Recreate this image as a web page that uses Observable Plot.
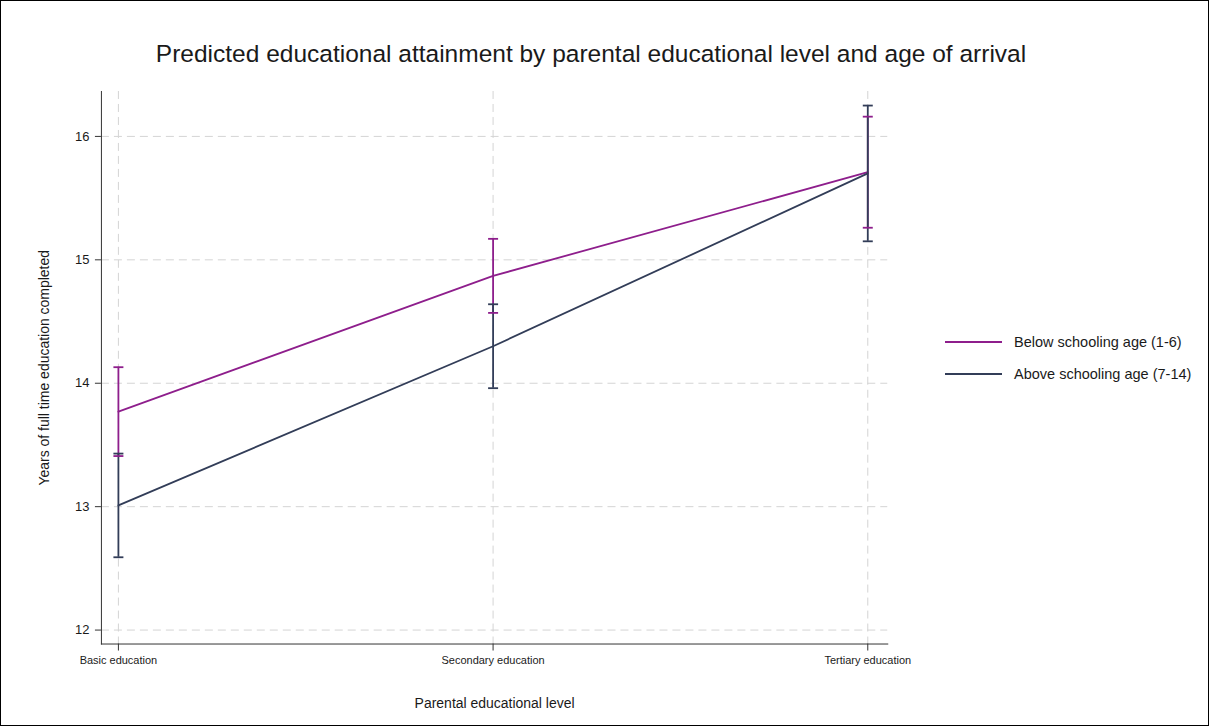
<!DOCTYPE html>
<html>
<head>
<meta charset="utf-8">
<script src="https://cdn.jsdelivr.net/npm/d3@7"></script>
<script src="https://cdn.jsdelivr.net/npm/@observablehq/plot@0.6"></script>
<style>
  html, body { margin: 0; padding: 0; background: #fff; }
  #wrap { position: relative; width: 1209px; height: 726px; box-sizing: border-box; border: 1px solid #000; overflow: hidden; font-family: "Liberation Sans", Arial, sans-serif; color: #1a1a1a; }
  #title { position: absolute; left: 0; width: 1180px; top: 38px; text-align: center; font-size: 24.5px; line-height: 30px; }
  #chart { position: absolute; left: -1px; top: 74px; }
  #legend { position: absolute; left: 944px; top: 325px; font-size: 14.5px; }
  .item { display: flex; align-items: center; height: 32px; }
  .swatch { width: 57px; height: 0; border-top: 2px solid; margin-right: 12px; }
</style>
</head>
<body>
<div id="wrap">
  <div id="title">Predicted educational attainment by parental educational level and age of arrival</div>
  <div id="chart"></div>
  <div id="legend"></div>
</div>
<script>
const categories = ["Basic education", "Secondary education", "Tertiary education"];
const groups = ["Below schooling age (1-6)", "Above schooling age (7-14)"];
const colors = ["#8e1e8c", "#323d58"];
const belowMean = [13.77, 14.87, 15.71];
const belowLow  = [13.41, 14.57, 15.26];
const belowHigh = [14.13, 15.17, 16.16];
const aboveMean = [13.01, 14.30, 15.70];
const aboveLow  = [12.59, 13.96, 15.15];
const aboveHigh = [13.43, 14.64, 16.25];
const yTicks = [12, 13, 14, 15, 16];
const yDomain = [11.887, 16.364];
const xTitle = "Parental educational level";
const yTitle = "Years of full time education completed";

const data = [];
categories.forEach((c, i) => {
  data.push({cat: c, group: groups[0], mean: belowMean[i], low: belowLow[i], high: belowHigh[i]});
});
categories.forEach((c, i) => {
  data.push({cat: c, group: groups[1], mean: aboveMean[i], low: aboveLow[i], high: aboveHigh[i]});
});

const capSymbol = {
  draw(ctx, size) {
    const w = Math.sqrt(size / Math.PI);
    ctx.moveTo(-w, 0);
    ctx.lineTo(w, 0);
  }
};

const grid = {stroke: "#d4d4d4", strokeOpacity: 1, strokeDasharray: "8,5", strokeWidth: 1};

const plot = Plot.plot({
  width: 1209,
  height: 652,
  marginLeft: 101,
  marginRight: 321,
  marginTop: 16,
  marginBottom: 83,
  style: {fontFamily: "'Liberation Sans', Arial, sans-serif", fontSize: "11px", color: "#1a1a1a", background: "transparent"},
  x: {type: "point", domain: categories, padding: 0, range: [117, 868]},
  y: {domain: yDomain},
  color: {domain: groups, range: colors},
  marks: [
    Plot.gridY(yTicks, grid),
    Plot.gridX(categories, grid),
    Plot.axisY(yTicks, {tickSize: 6, tickPadding: 6, fontSize: 13, tickFormat: "d", label: yTitle, labelAnchor: "center", labelOffset: 62, labelArrow: "none", stroke: "#333"}),
    Plot.axisX({tickSize: 7, tickPadding: 5, fontSize: 11, label: xTitle, labelAnchor: "center", labelOffset: 64, labelArrow: "none", stroke: "#333"}),
    Plot.frame({anchor: "left", stroke: "#333"}),
    Plot.frame({anchor: "bottom", stroke: "#333"}),
    Plot.line(data, {x: "cat", y: "mean", z: "group", stroke: "group", strokeWidth: 1.8}),
    Plot.ruleX(data, {x: "cat", y1: "low", y2: "high", stroke: "group", strokeWidth: 1.8}),
    Plot.dot(data, {x: "cat", y: "low", stroke: "group", symbol: capSymbol, r: 5, strokeWidth: 1.8, fill: "none"}),
    Plot.dot(data, {x: "cat", y: "high", stroke: "group", symbol: capSymbol, r: 5, strokeWidth: 1.8, fill: "none"})
  ]
});
document.getElementById("chart").appendChild(plot);

// enlarge axis titles relative to tick labels
d3.select(plot).selectAll("[aria-label='x-axis label'] text, [aria-label='y-axis label'] text").style("font-size", "14px");

const legend = document.getElementById("legend");
groups.forEach((g, i) => {
  const item = document.createElement("div");
  item.className = "item";
  const sw = document.createElement("span");
  sw.className = "swatch";
  sw.style.borderColor = colors[i];
  const t = document.createElement("span");
  t.textContent = g;
  item.appendChild(sw);
  item.appendChild(t);
  legend.appendChild(item);
});
</script>
</body>
</html>
